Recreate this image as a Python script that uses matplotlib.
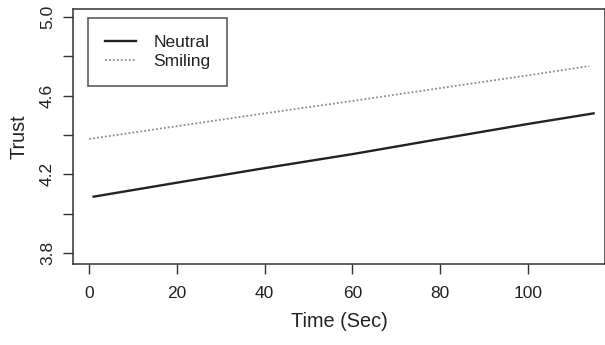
import matplotlib
matplotlib.use("Agg")
import matplotlib.pyplot as plt

plt.rcParams['font.family'] = ['Liberation Sans', 'DejaVu Sans']

# values
time_neutral = [1, 20, 40, 60, 80, 100, 115]
trust_neutral = [4.087, 4.158, 4.232, 4.303, 4.38, 4.456, 4.51]
time_smiling = [0, 20, 40, 60, 80, 100, 114]
trust_smiling = [4.38, 4.445, 4.51, 4.573, 4.638, 4.703, 4.75]

xticks = [0, 20, 40, 60, 80, 100]
yticks = [3.8, 4.0, 4.2, 4.4, 4.6, 4.8, 5.0]
ytick_labels = ['3.8', '', '4.2', '', '4.6', '', '5.0']

fig = plt.figure(figsize=(6.05, 3.45), dpi=100)
ax = fig.add_axes([73 / 605, 1 - 264 / 345, 1 - 73 / 605, (264 - 9) / 345])

ax.plot(time_neutral, trust_neutral, color='#222222', lw=1.7, label='Neutral')
ax.plot(time_smiling, trust_smiling, color='#8a8a8a', lw=1.3, ls=(0, (1, 1.2)),
        label='Smiling')

ax.set_xlim(-3.7, 117.6)
ax.set_ylim(3.745, 5.04)
ax.set_xticks(xticks)
ax.set_yticks(yticks)
ax.set_yticklabels(ytick_labels, rotation=90, va='center')

ax.tick_params(axis='both', length=7, width=1, color='#333333', labelsize=12.5,
               labelcolor='#222222')
ax.tick_params(axis='x', pad=9)
ax.tick_params(axis='y', pad=6)
for s in ax.spines.values():
    s.set_linewidth(1.1)
    s.set_color('#333333')

ax.set_xlabel('Time (Sec)', fontsize=14.3, color='#222222', labelpad=8)
ax.set_ylabel('Trust', fontsize=14.3, color='#222222', labelpad=8)

leg = ax.legend(loc='upper left', bbox_to_anchor=(15 / 531, 1 - 9 / 255),
                fontsize=12.5, frameon=True, fancybox=False, handlelength=1.8,
                handletextpad=1.0, borderpad=0.95, labelspacing=0.25,
                borderaxespad=0)
leg.get_frame().set_edgecolor('#222222')
leg.get_frame().set_linewidth(1.1)
for t in leg.get_texts():
    t.set_color('#222222')

fig.savefig('out.png', dpi=100)
